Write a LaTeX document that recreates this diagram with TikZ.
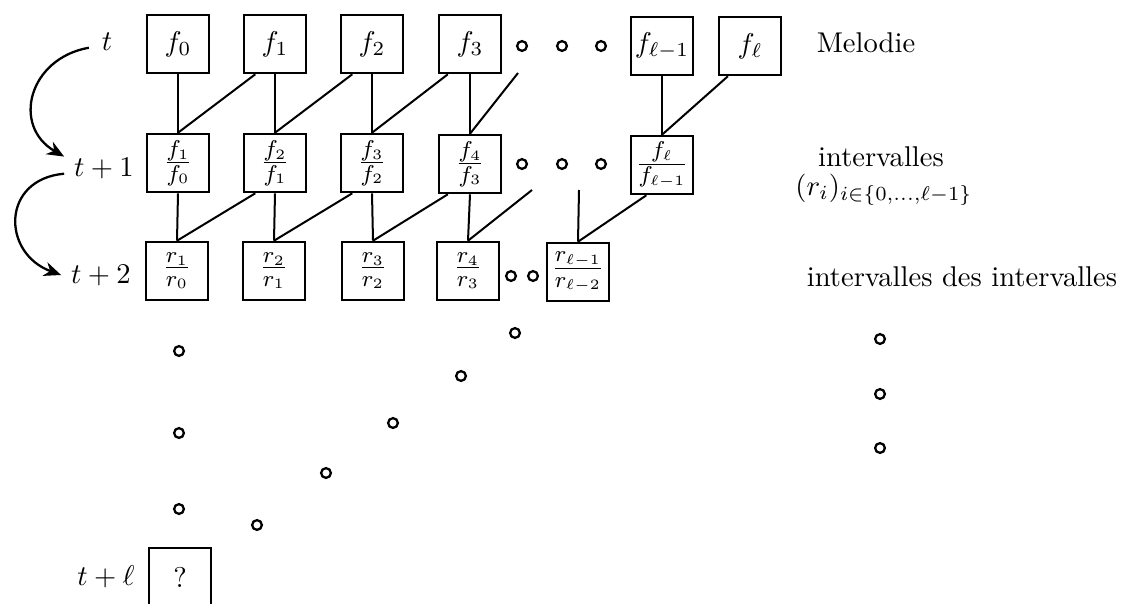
\documentclass[tikz,border=0pt]{standalone}
\usetikzlibrary{arrows.meta}
\begin{document}
\begin{tikzpicture}[x=0.0123cm, y=-0.0123cm,
    box/.style={draw, line width=0.7pt, minimum width=0.76cm, minimum height=0.72cm, inner sep=0pt},
    ratio/.style={box, font=\fontsize{11}{13}\selectfont},
    link/.style={line width=0.7pt},
    dot/.style={line width=0.8pt},
    turn/.style={line width=0.8pt, -{Stealth[length=6pt,width=5pt]}}]
\clip (0,0) rectangle (1125,603);
%\draw[red] (0,0) rectangle (1125,603);
% row labels
\node (tA) at (107,42) {$t$};
\node (tB) at (104,168) {$t+1$};
\node (tC) at (101,275) {$t+2$};
\node (tL) at (106,577) {$t+\ell$};
% melodie
\node[box] (f0) at (178,44) {$f_0$};
\node[box] (f1) at (275,44) {$f_1$};
\node[box] (f2) at (372,44) {$f_2$};
\node[box] (f3) at (470,44) {$f_3$};
\node[box] (fm) at (662,46) {$f_{\ell-1}$};
\node[box] (fl) at (750,46) {$f_\ell$};
% intervalles
\node[ratio] (q1) at (178,163) {$\frac{f_1}{f_0}$};
\node[ratio] (q2) at (275,163) {$\frac{f_2}{f_1}$};
\node[ratio] (q3) at (372,163) {$\frac{f_3}{f_2}$};
\node[ratio] (q4) at (470,164) {$\frac{f_4}{f_3}$};
\node[ratio] (ql) at (662,165) {$\frac{f_\ell}{f_{\ell-1}}$};
% intervalles des intervalles
\node[ratio] (r1) at (177,271) {$\frac{r_1}{r_0}$};
\node[ratio] (r2) at (274,271) {$\frac{r_2}{r_1}$};
\node[ratio] (r3) at (373,271) {$\frac{r_3}{r_2}$};
\node[ratio] (r4) at (468,271) {$\frac{r_4}{r_3}$};
\node[ratio] (rl) at (578,272) {$\frac{r_{\ell-1}}{r_{\ell-2}}$};
% last step
\node[box] (res) at (180,577) {?};
% texts on the right
\node (mel) at (866,43) {Melodie};
\node (int) at (881,157) {intervalles};
\node (idx) at (884,190) {$(r_i)_{i\in\{0,\ldots,\ell-1\}}$};
\node (iint) at (962,277) {intervalles des intervalles};
% free ends
\coordinate (uA) at (518,73);
\coordinate (uB) at (532,190);
\coordinate (uC) at (579,190);
% links melodie -> intervalles
\draw[link] (f0.south) -- (q1.north);
\draw[link] (f1.south) -- (q2.north);
\draw[link] (f2.south) -- (q3.north);
\draw[link] (f3.south) -- (q4.north);
\draw[link] (fm.south) -- (ql.north);
\draw[link] ([xshift=0.15cm]f1.south west) -- (q1.north);
\draw[link] ([xshift=0.15cm]f2.south west) -- (q2.north);
\draw[link] ([xshift=0.12cm]f3.south west) -- (q3.north);
\draw[link] ([xshift=0.12cm]fl.south west) -- (ql.north);
\draw[link] (uA) -- (q4.north);
% links intervalles -> intervalles des intervalles
\draw[link] (q1.south) -- (r1.north);
\draw[link] (q2.south) -- (r2.north);
\draw[link] (q3.south) -- (r3.north);
\draw[link] (q4.south) -- (r4.north);
\draw[link] ([xshift=0.15cm]q2.south west) -- (r1.north);
\draw[link] ([xshift=0.15cm]q3.south west) -- (r2.north);
\draw[link] ([xshift=0.12cm]q4.south west) -- (r3.north);
\draw[link] ([xshift=0.2cm]ql.south west) -- (rl.north);
\draw[link] (uB) -- (r4.north);
\draw[link] (uC) -- (rl.north);
% time steps
\draw[turn] ([xshift=-1pt,yshift=-2pt]tA.west) to[out=190,in=150,looseness=1.4] ([yshift=4pt]tB.west);
\draw[turn] ([yshift=-2pt]tB.west) to[out=185,in=160,looseness=1.6] ([yshift=0pt]tC.west);
% dots
\draw[dot] (522,46) circle[radius=0.06cm] (562,46) circle[radius=0.06cm] (601,46) circle[radius=0.06cm];
\draw[dot] (522,164) circle[radius=0.06cm] (562,164) circle[radius=0.06cm] (601,164) circle[radius=0.06cm];
\draw[dot] (511,276) circle[radius=0.06cm] (533,276) circle[radius=0.06cm];
\draw[dot] (179,351) circle[radius=0.06cm] (179,433) circle[radius=0.06cm] (179,509) circle[radius=0.06cm];
\draw[dot] (515,333) circle[radius=0.06cm] (461,376) circle[radius=0.06cm] (393,423) circle[radius=0.06cm]
           (326,473) circle[radius=0.06cm] (257,525) circle[radius=0.06cm];
\draw[dot] (880,339) circle[radius=0.06cm] (880,394) circle[radius=0.06cm] (880,448) circle[radius=0.06cm];
\end{tikzpicture}
\end{document}
